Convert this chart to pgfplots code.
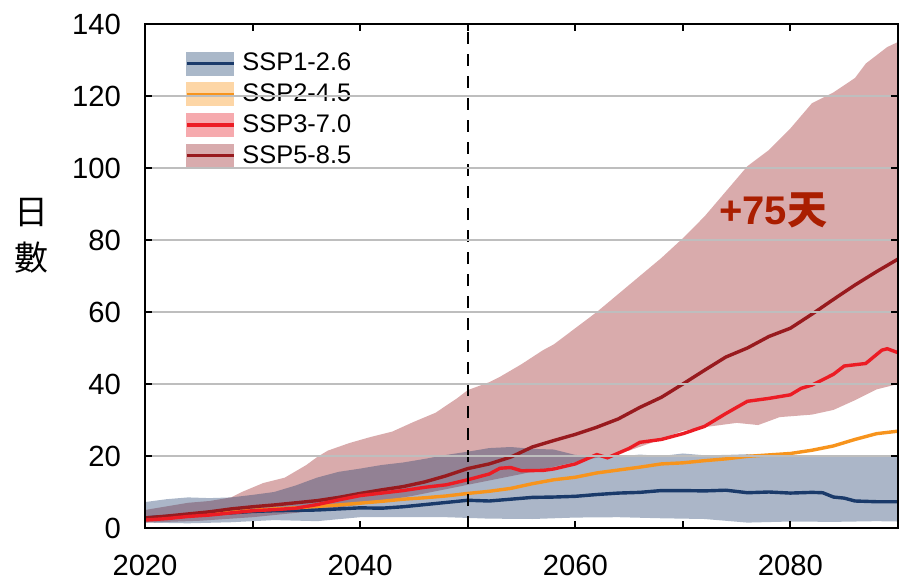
\documentclass[border=0pt]{standalone}
\usepackage{fontspec}
\setmainfont{Liberation Sans}
\newfontfamily\cjk{Noto Sans CJK TC}
\usepackage{pgfplots}
\pgfplotsset{compat=1.18}
\usepgfplotslibrary{fillbetween}

\definecolor{c1}{RGB}{26,58,106}
\definecolor{c2}{RGB}{247,148,29}
\definecolor{c3}{RGB}{236,28,36}
\definecolor{c5}{RGB}{152,26,30}
\definecolor{c1b}{RGB}{170,184,201}
\definecolor{c2b}{RGB}{253,214,166}
\definecolor{c3b}{RGB}{246,170,174}
\definecolor{c5b}{RGB}{216,171,173}
\definecolor{gridgray}{RGB}{190,190,190}
\definecolor{labred}{RGB}{170,30,0}

\pgfplotsset{
  band legend/.style 2 args={legend image code/.code={
      \fill[#1] (0pt,-5.75pt) rectangle (23.5pt,5.75pt);
      \draw[#2, line width=1.6pt] (0pt,0pt) -- (23.5pt,0pt);}},
}

\begin{document}
\begin{tikzpicture}
\begin{axis}[
    scale only axis,
    width=376.5pt, height=252pt,
    xmin=2020, xmax=2090, ymin=0, ymax=140,
    xtick={2020,2030,...,2090},
    xticklabels={2020,,2040,,2060,,2080,},
    ytick={0,20,...,140},
    ymajorgrids,
    grid style={line width=1pt, gridgray},
    axis line style={line width=1pt},
    major tick style={line width=1pt, black},
    major tick length=3.5pt,
    tick label style={font=\fontsize{14.6}{16}\selectfont},
    /pgf/number format/assume math mode=true,
    xticklabel style={yshift=-10pt},
    yticklabel style={xshift=-8.5pt},
    ylabel={日\\數},
    ylabel style={font=\cjk\fontsize{17}{23}\selectfont, align=center,
      rotate=-90, at={(axis description cs:-0.151,0.579)}, anchor=center},
    axis on top,
    legend cell align=left,
    legend style={at={(axis description cs:0.045,0.954)}, anchor=north west,
      draw=none, fill=none, font=\fontsize{12.7}{15}\selectfont,
      row sep=3.5pt, column sep=3.5pt, nodes={inner sep=0pt}},
  ]

\addlegendimage{band legend={c1b}{c1}}
\addlegendentry{SSP1-2.6}
\addlegendimage{band legend={c2b}{c2}}
\addlegendentry{SSP2-4.5}
\addlegendimage{band legend={c3b}{c3}}
\addlegendentry{SSP3-7.0}
\addlegendimage{band legend={c5b}{c5}}
\addlegendentry{SSP5-8.5}

% SSP5-8.5 range
\addplot[name path=p5u, draw=none, forget plot] coordinates {
 (2020,5) (2022,6) (2024,7) (2026,7.5) (2028,8.5) (2029,10) (2031,12.5)
 (2033,14) (2035,17.5) (2036,19.7) (2037,21.5) (2039,23.6) (2041,25.3)
 (2043,26.8) (2045,29.5) (2047,32) (2049,36) (2050,38.3) (2052,40.5)
 (2053,42) (2055,45.5) (2057,49.4) (2058,51) (2060,55.5) (2062,60)
 (2064,65) (2066,70) (2068,75) (2070,80.5) (2072,86.5) (2074,93.5)
 (2076,100.5) (2078,105) (2080,111) (2082,118) (2084,121) (2086,125)
 (2087,129) (2089,133.6) (2090,135)};
\addplot[name path=p5l, draw=none, forget plot] coordinates {
 (2020,1.5) (2025,2) (2030,3) (2035,4.5) (2040,6.5) (2045,9) (2050,12)
 (2055,15) (2058,17) (2061,19) (2063,20) (2065,21.5) (2067,23.6) (2070,27)
 (2072,28) (2075,29.2) (2077,28.6) (2079,30.8) (2082,31.5) (2084,32.8)
 (2086,35.5) (2088,38.5) (2090,40)};
\addplot[fill=c5, fill opacity=0.37, draw=none, forget plot] fill between[of=p5u and p5l];

% SSP1-2.6 range
\addplot[name path=p1u, draw=none, forget plot] coordinates {
 (2020,7.2) (2022,8) (2024,8.5) (2026,8.3) (2028,8.5) (2030,9.2) (2032,10)
 (2034,11.8) (2036,14) (2038,15.6) (2040,16.5) (2042,17.5) (2044,18.2)
 (2046,19.2) (2048,20.3) (2050,21.2) (2052,22.2) (2054,22.5) (2056,22)
 (2058,21.8) (2060,20.3) (2062,20) (2064,19.8) (2066,20.4) (2068,20)
 (2070,20.7) (2072,20.2) (2074,20.3) (2076,20.5) (2078,20) (2080,20.2)
 (2082,20.1) (2084,20) (2086,20) (2088,20) (2090,20)};
\addplot[name path=p1l, draw=none, forget plot] coordinates {
 (2020,1.5) (2024,1.3) (2028,1.6) (2032,2.2) (2036,1.9) (2040,3) (2044,3)
 (2048,3) (2052,2.6) (2056,2.5) (2060,2.9) (2064,3) (2068,2.7) (2072,2.5)
 (2076,1.5) (2080,1.8) (2084,1.7) (2088,1.9) (2090,1.8)};
\addplot[fill=c1, fill opacity=0.37, draw=none, forget plot] fill between[of=p1u and p1l];

% medians
\addplot[c1, line width=1.7pt, forget plot] coordinates {
 (2020,2.8) (2022,3.2) (2024,3.6) (2026,3.9) (2028,4.2) (2030,4.6) (2032,4.8)
 (2034,4.9) (2036,5) (2038,5.3) (2040,5.6) (2042,5.5) (2044,5.9) (2046,6.5)
 (2048,7.1) (2050,7.7) (2052,7.5) (2054,8) (2056,8.5) (2058,8.6) (2060,8.8)
 (2062,9.3) (2064,9.7) (2066,9.9) (2068,10.4) (2070,10.4) (2072,10.3)
 (2074,10.5) (2076,9.8) (2078,10) (2080,9.7) (2082,9.9) (2083,9.8)
 (2084,8.6) (2085,8.3) (2086,7.5) (2088,7.3) (2090,7.3)};
\addplot[c2, line width=1.7pt, forget plot] coordinates {
 (2020,2.5) (2022,3) (2024,3.5) (2026,4) (2028,4.4) (2030,4.9) (2032,5.3)
 (2034,5.6) (2036,6) (2038,6.4) (2040,6.9) (2042,7.4) (2044,8) (2046,8.4)
 (2048,8.9) (2050,9.6) (2052,10.2) (2054,11) (2056,12.3) (2058,13.4)
 (2060,14.1) (2062,15.3) (2064,16.1) (2066,16.9) (2068,17.8) (2070,18.1)
 (2072,18.7) (2074,19.2) (2076,19.9) (2078,20.3) (2080,20.7) (2082,21.6)
 (2084,22.8) (2086,24.6) (2088,26.2) (2090,26.9)};
\addplot[c5, line width=1.7pt, forget plot] coordinates {
 (2020,2.8) (2022,3.3) (2024,3.9) (2026,4.5) (2028,5.3) (2030,5.9) (2032,6.4)
 (2034,7) (2036,7.6) (2038,8.5) (2040,9.6) (2042,10.6) (2044,11.5)
 (2046,12.8) (2048,14.5) (2050,16.5) (2052,17.8) (2054,19.7) (2056,22.5)
 (2058,24.3) (2060,26) (2062,28) (2064,30.3) (2066,33.5) (2068,36.3)
 (2070,40) (2072,43.8) (2074,47.5) (2076,50) (2078,53.2) (2080,55.5)
 (2082,59.4) (2084,63.5) (2086,67.5) (2088,71.2) (2090,74.7)};
\addplot[c3, line width=1.7pt, forget plot] coordinates {
 (2020,2.2) (2022,2.6) (2024,3.2) (2026,3.6) (2028,4.2) (2030,4.8) (2032,5.1)
 (2034,5.5) (2036,6.5) (2038,7.8) (2040,9) (2042,9.7) (2044,10.4) (2046,11.3)
 (2048,12) (2050,13.4) (2052,15) (2053,16.6) (2054,16.8) (2055,15.9)
 (2057,16) (2058,16.4) (2060,17.8) (2062,20.4) (2063,19.5) (2065,22.1)
 (2066,23.8) (2068,24.6) (2070,26.2) (2072,28.2) (2074,31.8) (2076,35.2)
 (2078,36) (2080,37) (2081,38.8) (2082,39.7) (2084,42.7) (2085,45)
 (2087,45.7) (2088.5,49.4) (2089,49.8) (2090,48.7)};

% 2050 marker
\addplot[black, line width=1pt, dash pattern=on 6pt off 5pt, forget plot]
  coordinates {(2050,0) (2050,140)};

\node[font=\bfseries\fontsize{20}{24}\selectfont, text=labred]
  at (axis cs:2078.4,88.3) {+75{\cjk\bfseries 天}};
\end{axis}
\pgfresetboundingbox
\useasboundingbox (-72.5pt,-25.5pt) rectangle (377.5pt,264pt);
\end{tikzpicture}
\end{document}
